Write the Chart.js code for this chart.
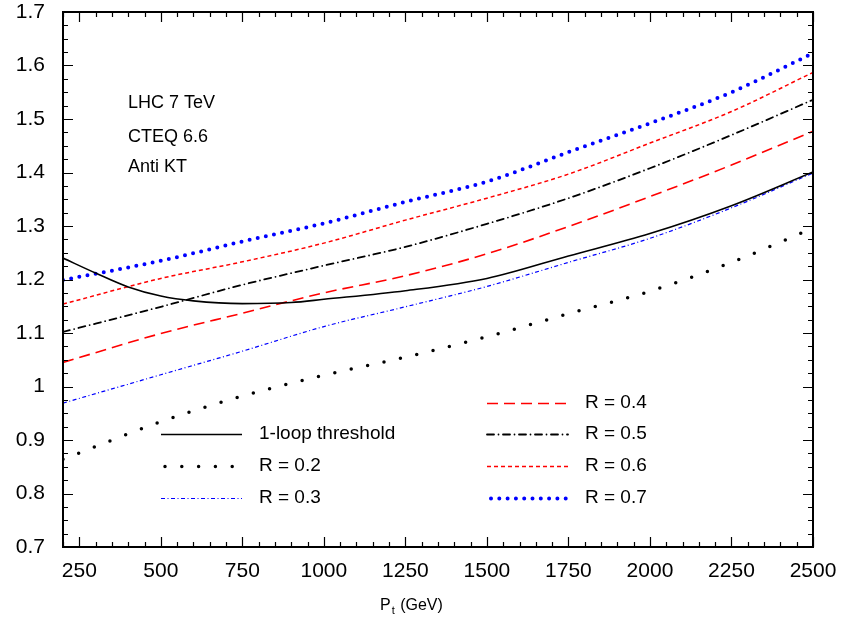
<!DOCTYPE html>
<html>
<head>
<meta charset="utf-8">
<script src="https://cdn.jsdelivr.net/npm/chart.js@4"></script>
<style>
  html, body { margin: 0; padding: 0; background: #fff; }
  canvas { display: block; }
</style>
</head>
<body>
<canvas id="myChart" width="843" height="625"></canvas>
<script>
// values
const ptThreshold = [200, 300, 400, 500, 600, 750, 900, 1000, 1250, 1500, 1750, 2000, 2250, 2500];
const threshold = [1.240, 1.212, 1.186, 1.169, 1.160, 1.155, 1.157, 1.163, 1.179, 1.202, 1.244, 1.286, 1.338, 1.401];

const pt = [200, 500, 750, 1000, 1250, 1500, 1750, 2000, 2250, 2500];
const r02 = [0.864, 0.934, 0.982, 1.021, 1.055, 1.093, 1.136, 1.178, 1.232, 1.296];
const r03 = [0.969, 1.022, 1.066, 1.112, 1.149, 1.187, 1.232, 1.277, 1.334, 1.399];
const r04 = [1.045, 1.099, 1.137, 1.175, 1.207, 1.248, 1.299, 1.355, 1.414, 1.477];
const r05 = [1.102, 1.149, 1.190, 1.226, 1.261, 1.304, 1.352, 1.408, 1.470, 1.536];
const r06 = [1.154, 1.202, 1.233, 1.268, 1.311, 1.352, 1.397, 1.455, 1.514, 1.587];
const r07 = [1.199, 1.235, 1.271, 1.305, 1.345, 1.383, 1.438, 1.492, 1.550, 1.623];

const xTicks = [250, 500, 750, 1000, 1250, 1500, 1750, 2000, 2250, 2500];
const yTicks = [0.7, 0.8, 0.9, 1.0, 1.1, 1.2, 1.3, 1.4, 1.5, 1.6, 1.7];
const labels = ['1-loop threshold', 'R = 0.2', 'R = 0.3', 'R = 0.4', 'R = 0.5', 'R = 0.6', 'R = 0.7'];
const notes = ['LHC 7 TeV', 'CTEQ 6.6', 'Anti KT'];

const FONT = '"Liberation Sans", Arial, Helvetica, sans-serif';

const toPoints = (xs, ys) => xs.map((x, i) => ({ x: x, y: ys[i] }));

const series = (label, xs, ys, color, width, dash, cap) => ({
  label: label,
  data: toPoints(xs, ys),
  borderColor: color,
  borderWidth: width,
  borderDash: dash,
  borderCapStyle: cap || 'butt',
  pointRadius: 0,
  fill: false,
  cubicInterpolationMode: 'monotone',
});

const datasets = [
  series(labels[0], ptThreshold, threshold, '#000000', 1.6, []),
  series(labels[1], pt, r02, '#000000', 3.5, [0, 16.8], 'round'),
  series(labels[2], pt, r03, '#0000ff', 1.2, [4, 2.5, 1, 2.5]),
  series(labels[3], pt, r04, '#ff0000', 1.6, [11, 6]),
  series(labels[4], pt, r05, '#000000', 1.8, [7, 4.5, 0, 4.5], 'round'),
  series(labels[5], pt, r06, '#ff0000', 1.5, [4, 3]),
  series(labels[6], pt, r07, '#0000ff', 4, [0, 8.3], 'round'),
];

// frame with inward ticks, notes, axis title and legend
const framePlugin = {
  id: 'frame',
  afterDraw(chart) {
    const ctx = chart.ctx;
    const a = chart.chartArea;
    const xs = chart.scales.x;
    const ys = chart.scales.y;
    ctx.save();
    ctx.strokeStyle = '#000';

    // minor/major ticks
    ctx.lineWidth = 1.2;
    ctx.beginPath();
    for (let v = 200; v <= 2500; v += 50) {
      const px = Math.round(xs.getPixelForValue(v)) + 0.5;
      const len = v % 250 === 0 ? 10 : 5;
      ctx.moveTo(px, a.bottom); ctx.lineTo(px, a.bottom - len);
      ctx.moveTo(px, a.top); ctx.lineTo(px, a.top + len);
    }
    for (let i = 0; i <= 40; i++) {
      const v = 0.7 + i * 0.025;
      const py = Math.round(ys.getPixelForValue(v)) + 0.5;
      const len = i % 4 === 0 ? 10 : 5;
      ctx.moveTo(a.left, py); ctx.lineTo(a.left + len, py);
      ctx.moveTo(a.right, py); ctx.lineTo(a.right - len, py);
    }
    ctx.stroke();

    ctx.lineWidth = 2;
    ctx.strokeRect(a.left, a.top, a.right - a.left, a.bottom - a.top);

    // notes in the upper left
    ctx.fillStyle = '#000';
    ctx.font = '18px ' + FONT;
    ctx.textAlign = 'left';
    ctx.textBaseline = 'middle';
    [103, 137, 167].forEach((y, i) => ctx.fillText(notes[i], 128, y));

    // x axis title with subscript
    ctx.font = '16px ' + FONT;
    const tx = 380, ty = 606;
    ctx.fillText('P', tx, ty);
    const pw = ctx.measureText('P').width;
    ctx.font = '11px ' + FONT;
    ctx.fillText('t', tx + pw + 1, ty + 5);
    const tw = ctx.measureText('t').width;
    ctx.font = '16px ' + FONT;
    ctx.fillText(' (GeV)', tx + pw + tw + 2, ty);

    // legend
    const slots = [
      [161, 434], [161, 466], [161, 498],
      [487, 403], [487, 434], [487, 466], [487, 498],
    ];
    ctx.font = '19px ' + FONT;
    chart.data.datasets.forEach((ds, i) => {
      const [lx, ly] = slots[i];
      ctx.save();
      ctx.strokeStyle = ds.borderColor;
      ctx.lineWidth = ds.borderWidth;
      ctx.setLineDash(ds.borderDash);
      ctx.lineCap = ds.borderCapStyle;
      ctx.beginPath();
      const off = ds.borderCapStyle === 'round' && ds.borderDash[0] === 0 ? 4 : 0;
      ctx.moveTo(lx + off, ly + 0.5);
      ctx.lineTo(lx + 81, ly + 0.5);
      ctx.stroke();
      ctx.restore();
      ctx.fillText(ds.label, lx + 98, ly);
    });
    ctx.restore();
  },
};

const ctx = document.getElementById('myChart').getContext('2d');
new Chart(ctx, {
  type: 'line',
  data: { datasets: datasets },
  options: {
    responsive: false,
    animation: false,
    layout: { padding: { top: 12, right: 30, left: 0, bottom: 0 } },
    scales: {
      x: {
        type: 'linear',
        min: 200,
        max: 2500,
        grid: { display: false, drawTicks: false },
        border: { display: false },
        afterBuildTicks: (s) => { s.ticks = xTicks.map(v => ({ value: v })); },
        afterFit: (s) => { s.height = 78; s.paddingLeft = 0; s.paddingRight = 0; },
        ticks: {
          color: '#000',
          font: { family: FONT, size: 21 },
          padding: 12,
          maxRotation: 0,
          autoSkip: false,
          callback: (v) => String(v),
        },
      },
      y: {
        type: 'linear',
        min: 0.7,
        max: 1.7,
        grid: { display: false, drawTicks: false },
        border: { display: false },
        afterBuildTicks: (s) => { s.ticks = yTicks.map(v => ({ value: v })); },
        afterFit: (s) => { s.width = 63; s.paddingTop = 0; s.paddingBottom = 0; },
        ticks: {
          color: '#000',
          font: { family: FONT, size: 21 },
          padding: 18,
          autoSkip: false,
          callback: (v) => String(Number(v.toFixed(1))),
        },
      },
    },
    plugins: {
      legend: { display: false },
      tooltip: { enabled: false },
    },
  },
  plugins: [framePlugin],
});
</script>
</body>
</html>
